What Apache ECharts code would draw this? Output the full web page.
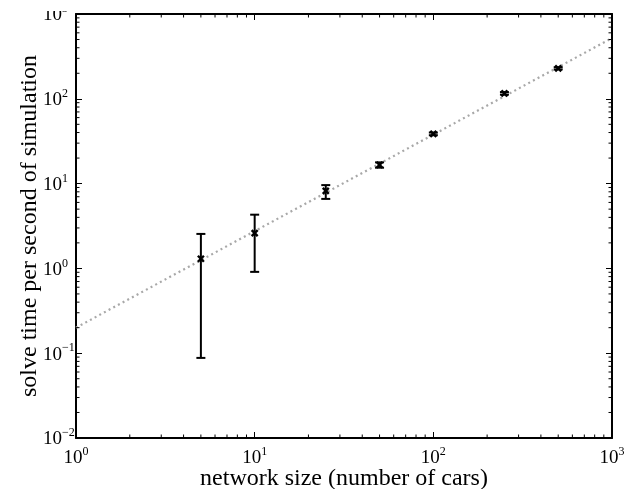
<!DOCTYPE html>
<html><head><meta charset="utf-8">
<script src="https://cdn.jsdelivr.net/npm/echarts@6/dist/echarts.min.js"></script>
<style>html,body{margin:0;padding:0;background:#fff}#c{width:632px;height:489px}</style>
</head><body><div id="c"></div>
<script>
// ---- data ----
const carCounts = [5, 10, 25, 50, 100, 250, 500];
const solveMean = [1.3, 2.6, 8.2, 16.6, 38.5, 116, 229];
const solveLow  = [0.088, 0.91, 6.6, 15.4, 37.2, 112, 222];
const solveHigh = [2.55, 4.3, 9.6, 17.8, 40, 120, 236];
const fitX = [1, 1000];
const fitY = [0.2, 520];
const xMin = 1, xMax = 1000;
const yMin = 0.01, yMax = 1000;

const FONT = 'Liberation Serif';

// minor tick values (2..9 per decade)
function minorTicks(lo, hi) {
  const out = [];
  for (let d = lo; d < hi; d *= 10) for (let k = 2; k <= 9; k++) out.push(+(d * k).toPrecision(3));
  return out;
}
const xMinor = minorTicks(xMin, xMax);
const yMinor = minorTicks(yMin, yMax);

function supFmt(v) {
  const e = Math.round(Math.log10(v));
  return '{b|10}{s|' + (e < 0 ? '\u2212' + (-e) : e) + '}';
}
const rich = {
  b: { fontFamily: FONT, fontSize: 19, color: '#000', lineHeight: 22, verticalAlign: 'bottom' },
  s: { fontFamily: FONT, fontSize: 12, color: '#000', lineHeight: 22, verticalAlign: 'top' }
};

const chart = echarts.init(document.getElementById('c'), null, { renderer: 'canvas' });

const errData = carCounts.map((c, i) => [c, solveMean[i], solveLow[i], solveHigh[i]]);
const fitData = fitX.map((x, i) => [x, fitY[i]]);

const axBase = {
  type: 'log', logBase: 10,
  axisLine: { show: true, onZero: false, lineStyle: { color: '#000', width: 2 } },
  axisTick: { show: true, inside: true, length: 6, lineStyle: { color: '#000', width: 1 } },
  splitLine: { show: false },
  minorTick: { show: false },
};

chart.setOption({
  animation: false,
  backgroundColor: '#fff',
  grid: { left: 76, right: 20, top: 14, bottom: 51, containLabel: false, outerBoundsMode: 'none' },
  xAxis: [
    Object.assign({}, axBase, {
      position: 'bottom', min: xMin, max: xMax, splitNumber: 3,
      axisLabel: { formatter: supFmt, rich: rich, margin: 8 },
      name: 'network size (number of cars)', nameLocation: 'middle', nameGap: 29, nameMoveOverlap: false,
      nameTextStyle: { fontFamily: FONT, fontSize: 24, color: '#000' }
    }),
    Object.assign({}, axBase, {
      position: 'top', min: xMin, max: xMax, splitNumber: 3,
      axisLabel: { show: false }
    })
  ],
  yAxis: [
    Object.assign({}, axBase, {
      position: 'left', min: yMin, max: yMax, splitNumber: 5,
      axisLabel: { formatter: supFmt, rich: rich, margin: 33, align: 'left' },
      name: 'solve time per second of simulation', nameLocation: 'middle', nameGap: 34, nameMoveOverlap: false,
      nameTextStyle: { fontFamily: FONT, fontSize: 24, color: '#000' }
    }),
    Object.assign({}, axBase, {
      position: 'right', min: yMin, max: yMax, splitNumber: 5,
      axisLabel: { show: false }
    })
  ],
  series: [
    {
      type: 'line', data: fitData, symbol: 'none', z: 1,
      lineStyle: { color: '#a8a8a8', width: 2.2, type: [2, 3.3] }
    },
    {
      type: 'custom', data: errData, z: 3, clip: false,
      encode: { x: 0, y: [1, 2, 3] },
      renderItem: function (params, api) {
        const x = api.value(0), m = api.value(1), lo = api.value(2), hi = api.value(3);
        const pm = api.coord([x, m]), pl = api.coord([x, lo]), ph = api.coord([x, hi]);
        const st = { stroke: '#000', lineWidth: 2 };
        const sx = { stroke: '#000', lineWidth: 2.4 };
        const c = 4.5, s = 3;
        return { type: 'group', children: [
          { type: 'line', shape: { x1: pl[0], y1: pl[1], x2: ph[0], y2: ph[1] }, style: st },
          { type: 'line', shape: { x1: pl[0] - c, y1: pl[1], x2: pl[0] + c, y2: pl[1] }, style: st },
          { type: 'line', shape: { x1: ph[0] - c, y1: ph[1], x2: ph[0] + c, y2: ph[1] }, style: st },
          { type: 'line', shape: { x1: pm[0] - s, y1: pm[1] - s, x2: pm[0] + s, y2: pm[1] + s }, style: sx },
          { type: 'line', shape: { x1: pm[0] - s, y1: pm[1] + s, x2: pm[0] + s, y2: pm[1] - s }, style: sx }
        ] };
      }
    },
    {
      // x minor ticks on bottom and top axes
      type: 'custom', data: xMinor.map(v => [v, yMin]), z: 5, clip: false, silent: true,
      encode: { x: 0, y: 1 },
      renderItem: function (params, api) {
        const v = api.value(0);
        const b = api.coord([v, yMin]), t = api.coord([v, yMax]);
        const st = { stroke: '#000', lineWidth: 1 };
        return { type: 'group', children: [
          { type: 'line', shape: { x1: b[0], y1: b[1], x2: b[0], y2: b[1] - 3.5 }, style: st },
          { type: 'line', shape: { x1: t[0], y1: t[1], x2: t[0], y2: t[1] + 3.5 }, style: st }
        ] };
      }
    },
    {
      // y minor ticks on left and right axes
      type: 'custom', data: yMinor.map(v => [xMin, v]), z: 5, clip: false, silent: true,
      encode: { x: 0, y: 1 },
      renderItem: function (params, api) {
        const v = api.value(1);
        const l = api.coord([xMin, v]), r = api.coord([xMax, v]);
        const st = { stroke: '#000', lineWidth: 1 };
        return { type: 'group', children: [
          { type: 'line', shape: { x1: l[0], y1: l[1], x2: l[0] + 3.5, y2: l[1] }, style: st },
          { type: 'line', shape: { x1: r[0], y1: r[1], x2: r[0] - 3.5, y2: r[1] }, style: st }
        ] };
      }
    }
  ],
  graphic: [
    { type: 'rect', left: 0, top: 0, shape: { width: 75, height: 11 }, style: { fill: '#fff' }, z: 100 }
  ]
});
</script>
</body></html>
